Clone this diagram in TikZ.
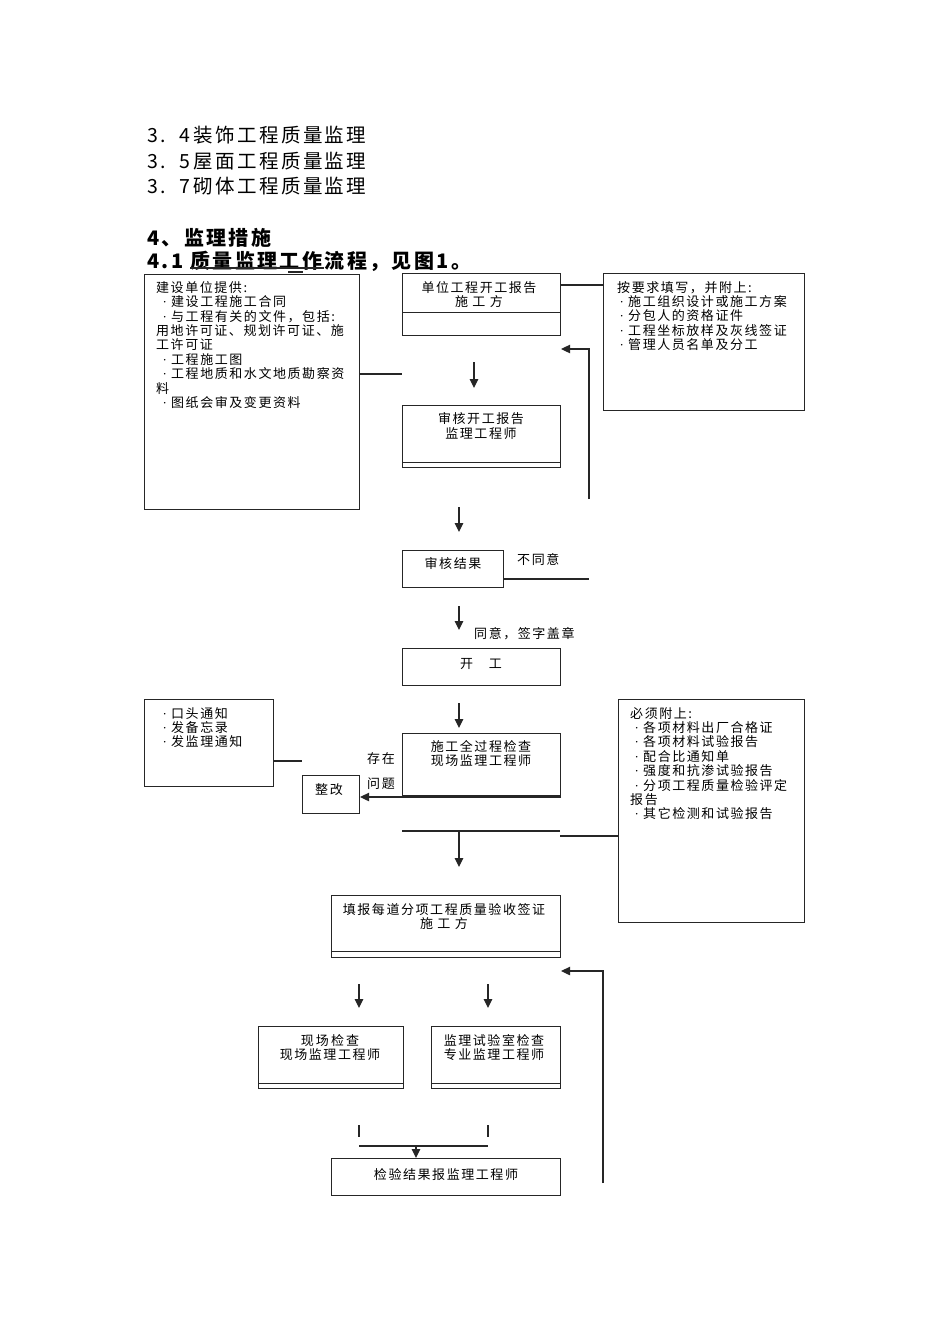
\documentclass[tikz,border=0pt]{standalone}
\usepackage{fontspec}
\setmainfont{Noto Sans CJK SC}
\newfontfamily\bx[LetterSpace=12]{Noto Sans CJK SC}
\newfontfamily\hd[LetterSpace=12]{Noto Sans CJK SC}
\newfontfamily\lfont{Liberation Serif}
\newcommand\mybul{\makebox[9pt][l]{\lfont\hspace{0.5pt}·}}
\usetikzlibrary{arrows.meta}
\begin{document}
\begin{tikzpicture}[x=1pt,y=-1pt,
  box/.style={draw=black!85,line width=1.1pt,rectangle,inner sep=0pt,anchor=north west},
  ln/.style={draw=black!85,line width=1.1pt},
  arr/.style={ln,-{Triangle[length=9pt,width=8.5pt]}},
  txt/.style={inner sep=0pt,font=\bx\fontsize{13}{14.4}\selectfont},
  ltxt/.style={txt,align=left,anchor=north west},
  ctxt/.style={txt,align=center},
  head/.style={inner sep=0pt,anchor=west,font=\hd\fontsize{19.5}{24}\selectfont},
  bhead/.style={inner sep=0pt,anchor=west,font=\hd\bfseries\fontsize{20}{24}\selectfont},
]
\useasboundingbox[fill=white] (0,0) rectangle (950,1344);

% headings
\node[head] (h1) at (147,135) {3.\hspace{14pt}4\,装饰工程质量监理};
\node[head] (h2) at (147,161) {3.\hspace{14pt}5\,屋面工程质量监理};
\node[head] (h3) at (147,186) {3.\hspace{14pt}7\,砌体工程质量监理};
\node[bhead] (h4) at (147,238) {4、监理措施};
\node[bhead] (h5) at (147,261) {4.1 质量监理工作流程，见图1。};
\coordinate (u1) at (190,268); \coordinate (u2) at (324,268);
\draw[ln] (u1) -- (u2);
\coordinate (u3) at (288,272); \coordinate (u4) at (303,272);
\draw[ln] (u3) -- (u4);

% boxes
\node[box,minimum width=215,minimum height=235] (L) at (144,274) {};
\node[box,minimum width=158,minimum height=62] (A) at (402,273) {};
\node[box,minimum width=201,minimum height=137] (TR) at (603,273) {};
\node[box,minimum width=158,minimum height=62] (B) at (402,405) {};
\node[box,minimum width=101,minimum height=37] (C) at (402,550) {};
\node[box,minimum width=158,minimum height=37] (D) at (402,648) {};
\node[box,minimum width=129,minimum height=87] (F) at (144,699) {};
\node[box,minimum width=158,minimum height=62] (E) at (402,733) {};
\node[box,minimum width=57,minimum height=38] (Z) at (302,775) {};
\node[box,minimum width=186,minimum height=223] (G) at (618,699) {};
\node[box,minimum width=229,minimum height=62] (H) at (331,895) {};
\node[box,minimum width=145,minimum height=62] (I) at (258,1026) {};
\node[box,minimum width=129,minimum height=62] (J) at (431,1026) {};
\node[box,minimum width=229,minimum height=37] (K) at (331,1158) {};

% dividers
\draw[ln] ([yshift=24pt]A.south west) -- ([yshift=24pt]A.south east);
\draw[ln] ([yshift=6pt]B.south west) -- ([yshift=6pt]B.south east);
\draw[ln] ([yshift=7pt]H.south west) -- ([yshift=7pt]H.south east);
\draw[ln] ([yshift=6pt]I.south west) -- ([yshift=6pt]I.south east);
\draw[ln] ([yshift=6pt]J.south west) -- ([yshift=6pt]J.south east);

% texts
\node[ltxt] (Lt) at (156,281) {建设单位提供:\\
\hspace*{6pt}\mybul 建设工程施工合同\\
\hspace*{6pt}\mybul 与工程有关的文件，包括:\\
用地许可证、规划许可证、施\\
工许可证\\
\hspace*{6pt}\mybul 工程施工图\\
\hspace*{6pt}\mybul 工程地质和水文地质勘察资\\
料\\
\hspace*{6pt}\mybul 图纸会审及变更资料};
\node[ltxt] (TRt) at (617,281) {按要求填写，并附上:\\
\hspace*{2pt}\mybul 施工组织设计或施工方案\\
\hspace*{2pt}\mybul 分包人的资格证件\\
\hspace*{2pt}\mybul 工程坐标放样及灰线签证\\
\hspace*{2pt}\mybul 管理人员名单及分工};
\node[ltxt] (Gt) at (630,707) {必须附上:\\
\hspace*{4pt}\mybul 各项材料出厂合格证\\
\hspace*{4pt}\mybul 各项材料试验报告\\
\hspace*{4pt}\mybul 配合比通知单\\
\hspace*{4pt}\mybul 强度和抗渗试验报告\\
\hspace*{4pt}\mybul 分项工程质量检验评定\\
报告\\
\hspace*{4pt}\mybul 其它检测和试验报告};
\node[ltxt] (Ft) at (160,707) {\hspace*{2pt}\mybul 口头通知\\\hspace*{2pt}\mybul 发备忘录\\\hspace*{2pt}\mybul 发监理通知};

\node[ctxt] (At) at (479,294.5) {单位工程开工报告\\施~工~方};
\node[ctxt] (Bt) at (481,426) {审核开工报告\\监理工程师};
\node[ctxt] (Ct) at (453,564) {审核结果};
\node[ctxt] (Dt) at (481,664) {开\hspace{16pt}工};
\node[ctxt] (Et) at (481,753.5) {施工全过程检查\\现场监理工程师};
\node[ctxt] (Zt) at (329,790) {整改};
\node[ctxt] (Ht) at (444,916.5) {填报每道分项工程质量验收签证\\施~工~方};
\node[ctxt] (It) at (330,1047.5) {现\,场\,检\,查\\现场监理工程师};
\node[ctxt] (Jt) at (494,1047.5) {监理试验室检查\\专业监理工程师};
\node[ctxt] (Kt) at (446,1175) {检验结果报监理工程师};
\node[txt,anchor=west] (n1) at (517,560) {不同意};
\node[txt,anchor=west] (n2) at (474,634) {同意，签字盖章};
\node[ctxt] (n3) at (381,759) {存在};
\node[ctxt] (n4) at (381,784) {问题};

% helper coordinates
\coordinate (y285) at (0,285);
\coordinate (y374) at (0,374);
\coordinate (y579) at (0,579);
\coordinate (y797) at (0,797);
\coordinate (y761) at (0,761);
\coordinate (y836) at (0,836);
\coordinate (y349) at (0,349);
\coordinate (y971) at (0,971);

% connectors
\draw[ln] (A.east |- y285) -- (TR.west |- y285);
\draw[ln] (L.east |- y374) -- (A.west |- y374);
\coordinate (a1s) at (474,362); \coordinate (a1e) at (474,388);
\draw[arr] (a1s) -- (a1e);
\coordinate (fb1) at (589,499); \coordinate (fb1t) at (589,349);
\draw[arr] (fb1) -- (fb1t) -- (A.east |- y349);
\coordinate (a2s) at (459,507); \coordinate (a2e) at (459,532);
\draw[arr] (a2s) -- (a2e);
\coordinate (ce) at (589,579);
\draw[ln] (C.east |- y579) -- (ce);
\coordinate (a3s) at (459,606); \coordinate (a3e) at (459,630);
\draw[arr] (a3s) -- (a3e);
\coordinate (a4s) at (459,703); \coordinate (a4e) at (459,728);
\draw[arr] (a4s) -- (a4e);
\draw[arr] (E.east |- y797) -- (Z.east |- y797);
\draw[ln] (F.east |- y761) -- (Z.west |- y761);
\coordinate (m1) at (402,831); \coordinate (m2) at (560,831);
\draw[ln] (m1) -- (m2);
\coordinate (m3) at (560,836);
\draw[ln] (m3) -- (G.west |- y836);
\coordinate (a5s) at (459,831); \coordinate (a5e) at (459,867);
\draw[arr] (a5s) -- (a5e);
\coordinate (fb2) at (603,1183); \coordinate (fb2t) at (603,971);
\draw[arr] (fb2) -- (fb2t) -- (H.east |- y971);
\coordinate (a6s) at (359,984); \coordinate (a6e) at (359,1008);
\draw[arr] (a6s) -- (a6e);
\coordinate (a7s) at (488,984); \coordinate (a7e) at (488,1008);
\draw[arr] (a7s) -- (a7e);
\coordinate (t1a) at (359,1125); \coordinate (t1b) at (359,1137);
\draw[ln] (t1a) -- (t1b);
\coordinate (t2a) at (488,1125); \coordinate (t2b) at (488,1137);
\draw[ln] (t2a) -- (t2b);
\coordinate (j1) at (359,1146); \coordinate (j2) at (488,1146);
\draw[ln] (j1) -- (j2);
\coordinate (j3) at (416,1146);
\draw[arr] (j3) -- (j3 |- K.north);
\end{tikzpicture}
\end{document}
